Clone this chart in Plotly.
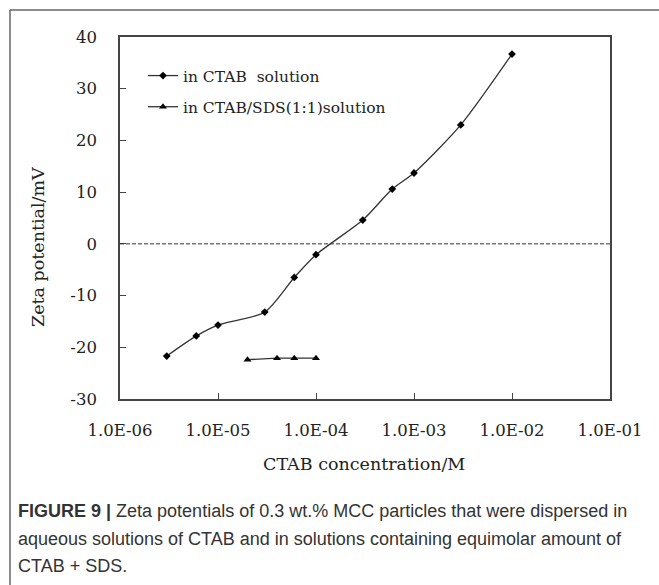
import plotly.graph_objects as go

# CTAB only
ctab_conc = [3e-6, 6e-6, 1e-5, 3e-5, 6e-5, 1e-4, 3e-4, 6e-4, 1e-3, 3e-3, 1e-2]
ctab_zeta = [-21.7, -17.8, -15.7, -13.2, -6.5, -2.1, 4.6, 10.6, 13.7, 23.0, 36.7]

# CTAB/SDS 1:1
mix_conc = [2e-5, 4e-5, 6e-5, 1e-4]
mix_zeta = [-22.4, -22.1, -22.1, -22.1]

x_tickvals = [1e-6, 1e-5, 1e-4, 1e-3, 1e-2, 1e-1]
x_ticktext = ["1.0E-06", "1.0E-05", "1.0E-04", "1.0E-03", "1.0E-02", "1.0E-01"]
y_tickvals = [-30, -20, -10, 0, 10, 20, 30, 40]
y_ticktext = ["-30", "-20", "-10", "0", "10", "20", "30", "40"]

caption_lines = [
    "<b>FIGURE 9 |</b> Zeta potentials of 0.3 wt.% MCC particles that were dispersed in",
    "aqueous solutions of CTAB and in solutions containing equimolar amount of",
    "CTAB + SDS.",
]

SERIF = "DejaVu Serif"
SANS = "Liberation Sans"

# plot area in pixels: x 120-610, y 37-399
L, R, T, B = 120, 610, 37, 399
W, H = 659, 585


def px_x(p):
    return (p - L) / (R - L)


def px_y(p):
    return (B - p) / (B - T)


fig = go.Figure()

fig.add_trace(go.Scatter(
    x=ctab_conc, y=ctab_zeta, mode="lines+markers", name="in CTAB  solution",
    line=dict(color="#333333", width=1.3, shape="spline", smoothing=0.7),
    marker=dict(symbol="diamond", size=6, color="black"),
    legendgroup="a",
))
fig.add_trace(go.Scatter(
    x=mix_conc, y=mix_zeta, mode="lines+markers", name="in CTAB/SDS(1:1)solution",
    line=dict(color="#333333", width=1.3),
    marker=dict(symbol="triangle-up", size=7, color="black"),
    legendgroup="b",
))

# zero line
fig.add_shape(type="line", xref="paper", yref="y", x0=0, x1=1, y0=0, y1=0,
              line=dict(color="#333333", width=1, dash="4px,2px"))

# outer figure frame (left and top)
fig.add_shape(type="line", xref="paper", yref="paper",
              x0=px_x(10), x1=px_x(10), y0=px_y(10), y1=px_y(H + 5),
              line=dict(color="#666666", width=1.5))
fig.add_shape(type="line", xref="paper", yref="paper",
              x0=px_x(10), x1=px_x(W + 5), y0=px_y(10), y1=px_y(10),
              line=dict(color="#666666", width=1.5))

# axis titles
fig.add_annotation(text="CTAB concentration/M", xref="paper", yref="paper",
                   x=px_x(364), y=px_y(464), xanchor="center", yanchor="middle",
                   showarrow=False,
                   font=dict(family=SERIF, size=17.5, color="#222222"))
fig.add_annotation(text="Zeta potential/mV", xref="paper", yref="paper",
                   x=px_x(38), y=px_y(247), xanchor="center", yanchor="middle",
                   showarrow=False, textangle=-90,
                   font=dict(family=SERIF, size=17.5, color="#222222"))

# caption
for line, py in zip(caption_lines, [511, 539, 566]):
    fig.add_annotation(text=line, xref="paper", yref="paper",
                       x=px_x(16), y=px_y(py), xanchor="left", yanchor="middle",
                       showarrow=False,
                       font=dict(family=SANS, size=18, color="#333333"))

axis_common = dict(
    showline=True, linecolor="#444444", linewidth=1.5, mirror=True,
    ticks="inside", ticklen=6, tickcolor="#444444",
    showgrid=False, zeroline=False,
    tickfont=dict(family=SERIF, size=16.5, color="#222222"),
)

fig.update_xaxes(type="log", range=[-6, -1], tickvals=x_tickvals, ticktext=x_ticktext,
                 ticklabelstandoff=15, **axis_common)
fig.update_yaxes(range=[-30, 40], tickvals=y_tickvals, ticktext=y_ticktext,
                 ticklabelstandoff=18, **axis_common)

fig.update_layout(
    width=W, height=H,
    margin=dict(l=L, r=W - R, t=T, b=H - B),
    paper_bgcolor="white", plot_bgcolor="white",
    showlegend=True,
    legend=dict(x=px_x(143), y=px_y(59), xanchor="left", yanchor="top",
                bgcolor="rgba(0,0,0,0)", tracegroupgap=8,
                font=dict(family=SERIF, size=15.5, color="#222222")),
)

# browsers add an 8px body margin by default; drop it so the figure sits at 0,0
fig.write_html("out.html", config={"displayModeBar": False},
               post_script="document.body.style.margin='0';")
